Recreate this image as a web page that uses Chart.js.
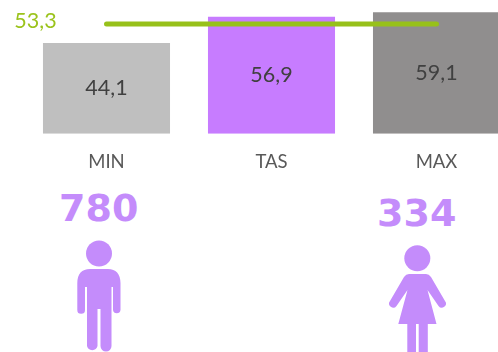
<!DOCTYPE html>
<html>
<head>
<meta charset="utf-8">
<script src="https://cdn.jsdelivr.net/npm/chart.js@4"></script>
<style>
html,body{margin:0;padding:0;background:#fff;}
#page{position:relative;width:498px;height:352px;overflow:hidden;}
#chartBox{position:absolute;left:0;top:0;width:519px;height:182px;}
.count{position:absolute;font:bold 38px "DejaVu Sans",sans-serif;color:#C48CFB;line-height:1;}
svg{position:absolute;left:0;top:0;}
</style>
</head>
<body>
<div id="page">
  <div id="chartBox"><canvas id="myChart"></canvas></div>
  <div class="count" id="menCount" style="left:59px;top:189px"></div>
  <div class="count" id="womenCount" style="left:377px;top:194px"></div>
  <svg width="498" height="352" fill="#C48CFB" stroke="none">
    <!-- man -->
    <circle cx="99" cy="253.500" r="13"/>
    <path d="M90 269H108Q120 269 120.500 283V310A3.800 3.800 0 0 1 113 310V287H111.500V346A5.400 5.400 0 0 1 100.500 346V309H97.500V346A5.400 5.400 0 0 1 87 346V287H85V310A3.800 3.800 0 0 1 77.300 310V283Q77.500 269 90 269Z"/>
    <!-- woman -->
    <circle cx="417.300" cy="258.300" r="13"/>
    <path d="M409 274H426Q429 274 431 277L445 301A3.800 3.800 0 0 1 438.500 306L427.500 290L436.500 324H427.800V352H418.700V324H416V352H407.300V324H398.300L407.500 290L396.500 306A3.800 3.800 0 0 1 390 301L404 277Q406 274 409 274Z"/>
  </svg>
</div>
<script>
'use strict';
let categories = ['MIN','TAS','MAX'];
let barValues = [44.1,56.9,59.1];
let barColors = ['#BFBFBF','#C77CFF','#908E8E'];
let lineValues = [53.3,53.3,53.3];
let lineLabel = '53,3';
let menCount = '780';
let womenCount = '334';

document.getElementById('menCount').textContent = menCount;
document.getElementById('womenCount').textContent = womenCount;

// value labels, comma as decimal mark
let labelsPlugin = {
  id: 'labelsPlugin',
  afterDatasetsDraw(chart){
    let ctx = chart.ctx;
    ctx.save();
    ctx.textAlign = 'center';
    ctx.textBaseline = 'middle';
    ctx.font = '21.5px Lato';
    ctx.fillStyle = '#404040';
    let y = chart.scales.y;
    let meta = chart.getDatasetMeta(0);
    for(let i=0;i<barValues.length;i++){
      let mid = (y.getPixelForValue(barValues[i]) + y.getPixelForValue(0))/2;
      ctx.fillText(String(barValues[i]).replace('.',','), meta.data[i].x, mid);
    }
    ctx.fillStyle = '#9BC31C';
    let first = chart.getDatasetMeta(1).data[0];
    ctx.fillText(lineLabel, first.x - 71, first.y - 3);
    ctx.restore();
  }
};

let myChart = new Chart(document.getElementById('myChart'),{
  type:'bar',
  data:{
    labels:categories,
    datasets:[
      {
        type:'bar',
        data:barValues,
        backgroundColor:barColors,
        barPercentage:0.77,
        categoryPercentage:1,
        order:2
      },
      {
        type:'line',
        data:lineValues,
        borderColor:'#97C11A',
        borderWidth:5,
        borderCapStyle:'round',
        pointRadius:0,
        order:1
      }
    ]
  },
  options:{
    responsive:true,
    maintainAspectRatio:false,
    animation:false,
    layout:{padding:{left:24,right:0,top:0,bottom:0}},
    plugins:{legend:{display:false},tooltip:{enabled:false}},
    scales:{
      x:{
        grid:{display:false},
        border:{display:false},
        ticks:{color:'#595959',font:{family:'Lato',size:18.5},padding:9,maxRotation:0}
      },
      y:{
        display:false,
        min:0,
        max:65
      }
    }
  },
  plugins:[labelsPlugin]
});
</script>
</body>
</html>
